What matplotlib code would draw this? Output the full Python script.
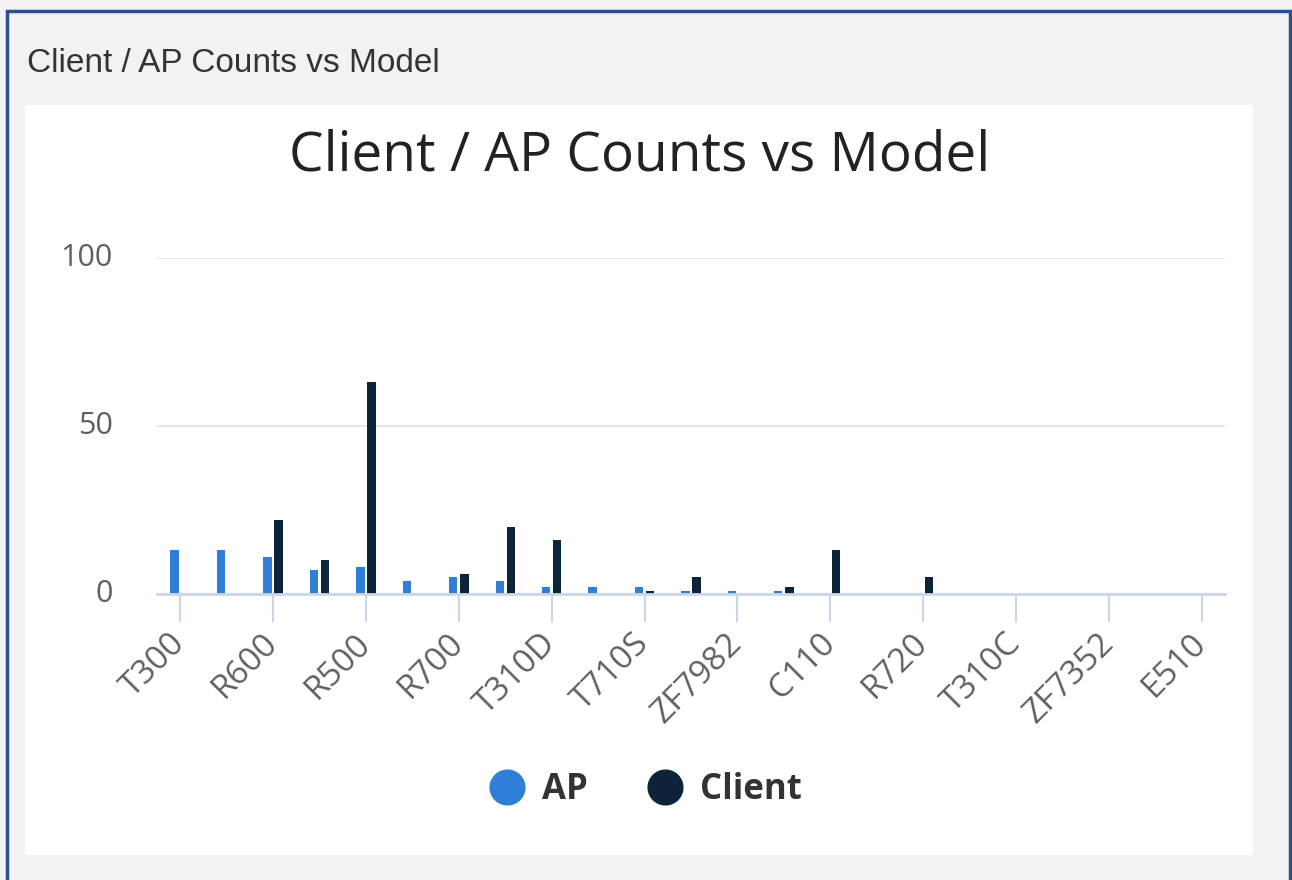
import matplotlib
matplotlib.use("Agg")
import matplotlib.pyplot as plt
import matplotlib.transforms as mtransforms
from matplotlib.lines import Line2D
from matplotlib.patches import Rectangle
import numpy as np

# Data (23 models, every other label shown)
models = ["T300", "", "R600", "", "R500", "", "R700", "", "T310D", "",
          "T710S", "", "ZF7982", "", "C110", "", "R720", "", "T310C", "",
          "ZF7352", "", "E510"]
ap_counts = [13, 13, 11, 7, 8, 4, 5, 4, 2, 2, 2, 1, 1, 1, 0, 0, 0, 0, 0, 0, 0, 0, 0]
client_counts = [0, 0, 22, 10, 63, 0, 6, 20, 16, 0, 1, 5, 0, 2, 13, 0, 5, 0, 0, 0, 0, 0, 0]
y_ticks = [0, 50, 100]

AP_COLOR = "#2f7ed8"
CLIENT_COLOR = "#0d233a"
W, H = 1292, 880

plt.rcParams["font.family"] = ["Open Sans", "DejaVu Sans"]

fig = plt.figure(figsize=(W / 100, H / 100), dpi=100)
fig.patch.set_facecolor("#f2f2f2")

# outer blue frame and white chart panel
fig.patches.append(Rectangle((7 / W, -0.05), (1290 - 7) / W, 1.05 - 11 / H,
                             transform=fig.transFigure, fill=False,
                             edgecolor="#2c4f94", lw=2.5, zorder=-2))
fig.patches.append(Rectangle((25 / W, 1 - 855 / H), (1253 - 25) / W, (855 - 105) / H,
                             transform=fig.transFigure, facecolor="white",
                             edgecolor="none", zorder=-2))

fig.text(27 / W, 1 - 63 / H, "Client / AP Counts vs Model", family="Liberation Sans",
         fontsize=24, color="#333333", ha="left", va="center")
fig.text(640 / W, 1 - 156 / H, "Client / AP Counts vs Model", fontsize=39.5,
         color="#222222", ha="center", va="center")

ax = fig.add_axes([157 / W, 1 - 594 / H, (1225 - 157) / W, (594 - 258) / H])
ax.set_facecolor("none")
ax.set_zorder(5)

x = np.arange(len(models))
bw = 0.18
ax.bar(x - 0.12, ap_counts, width=bw, color=AP_COLOR, zorder=3)
ax.bar(x + 0.12, client_counts, width=bw, color=CLIENT_COLOR, zorder=3)

ax.set_xlim(-0.5, len(models) - 0.5)
ax.set_ylim(0, 100)

for s in ["top", "left", "right"]:
    ax.spines[s].set_visible(False)
ax.spines["bottom"].set_color("#ccd6eb")
ax.spines["bottom"].set_linewidth(2)
ax.spines["bottom"].set_zorder(4)

ax.set_yticks(y_ticks)
ax.set_yticklabels([str(v) for v in y_ticks])
ax.yaxis.grid(True, color="#e6e6e6", lw=1.5, zorder=0)
ax.tick_params(axis="y", length=0, pad=32, labelsize=22, labelcolor="#606060")
# labels sit a few pixels above their grid lines
lift = mtransforms.ScaledTranslation(0, 4 / 100, fig.dpi_scale_trans)
for lbl in ax.get_yticklabels():
    lbl.set_transform(lbl.get_transform() + lift)

shown = list(range(0, len(models), 2))
ax.set_xticks(shown)
ax.set_xticklabels([models[i] for i in shown], rotation=45, ha="right",
                   va="center", rotation_mode="anchor")
ax.tick_params(axis="x", length=20, width=1.5, color="#ccd6eb", pad=12,
               labelsize=24, labelcolor="#606060")

handles = [Line2D([], [], marker="o", ls="", color=AP_COLOR, markersize=25),
           Line2D([], [], marker="o", ls="", color=CLIENT_COLOR, markersize=25)]
fig.legend(handles, ["AP", "Client"], loc="center", bbox_to_anchor=(644 / W, 1 - 790 / H),
           ncol=2, frameon=False, prop={"weight": "bold", "size": 25},
           handletextpad=0.42, columnspacing=1.6, handlelength=1.2,
           labelcolor="#333333")

fig.savefig("out.png", dpi=100, facecolor=fig.get_facecolor())
